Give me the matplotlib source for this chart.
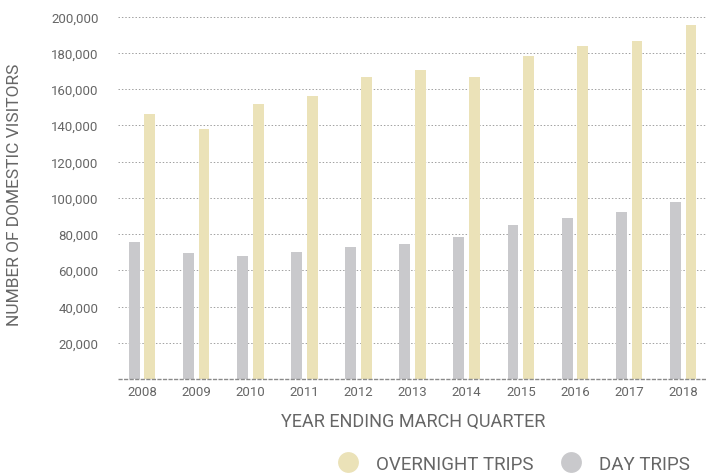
import matplotlib
matplotlib.use("Agg")
import matplotlib.pyplot as plt
from matplotlib.lines import Line2D
import numpy as np

years = ["2008", "2009", "2010", "2011", "2012", "2013", "2014", "2015", "2016", "2017", "2018"]
overnight_trips = [146000, 138000, 151500, 156000, 166500, 170500, 166500, 178000, 184000, 186500, 195500]
day_trips = [75800, 69300, 67700, 70300, 73000, 74500, 78200, 85100, 88800, 92000, 97500]
y_ticks = [20000, 40000, 60000, 80000, 100000, 120000, 140000, 160000, 180000, 200000]

OVERNIGHT_COLOR = "#ebe2b8"
DAY_COLOR = "#c9c9cc"
TEXT_COLOR = "#666666"
GRID_COLOR = "#a0a0a0"

plt.rcParams["font.family"] = ["Roboto", "DejaVu Sans"]

W, H = 707, 477
fig = plt.figure(figsize=(W / 100, H / 100), dpi=100)
left, right, bottom, top = 118, 707, 380, 17.5
ax = fig.add_axes([left / W, 1 - bottom / H, (right - left) / W, (bottom - top) / H])

x = np.arange(len(years))
bar_w = 0.2
offset = 0.145
ax.bar(x - offset, day_trips, width=bar_w, color=DAY_COLOR, zorder=3)
ax.bar(x + offset, overnight_trips, width=bar_w, color=OVERNIGHT_COLOR, zorder=3)

ax.set_xlim(-0.444, 10.44)
ax.set_ylim(0, 200000)

for s in ax.spines.values():
    s.set_visible(False)

for v in y_ticks:
    ax.axhline(v, color=GRID_COLOR, lw=0.7, ls=(0, (1.5, 2)), zorder=1, clip_on=False)
ax.axhline(0, color="#8a8a8a", lw=1.0, ls=(0, (3, 1)), zorder=4, clip_on=False)

ax.set_yticks(y_ticks)
ax.set_yticklabels([f"{v:,}" for v in y_ticks])
ax.set_xticks(x)
ax.set_xticklabels(years)
ax.tick_params(axis="both", length=0, labelsize=9.5, colors=TEXT_COLOR)
ax.tick_params(axis="y", pad=14)
ax.tick_params(axis="x", pad=4)

fig.text(15 / W, 1 - 195 / H, "NUMBER OF DOMESTIC VISITORS", rotation=90,
         ha="center", va="center", fontsize=12.5, color=TEXT_COLOR)
fig.text(413 / W, 1 - 422 / H, "YEAR ENDING MARCH QUARTER",
         ha="center", va="center", fontsize=13, color=TEXT_COLOR)

handles = [
    Line2D([], [], marker="o", ls="none", markersize=15, markerfacecolor=OVERNIGHT_COLOR,
           markeredgecolor="none", label="OVERNIGHT TRIPS"),
    Line2D([], [], marker="o", ls="none", markersize=15, markerfacecolor=DAY_COLOR,
           markeredgecolor="none", label="DAY TRIPS"),
]
leg = fig.legend(handles=handles, loc="center right", bbox_to_anchor=(707 / W, 1 - 465 / H),
                 ncol=2, frameon=False, handletextpad=0.5, columnspacing=1.0,
                 prop={"size": 13.5})
for t in leg.get_texts():
    t.set_color(TEXT_COLOR)

fig.savefig("out.png", dpi=100, facecolor="white")
